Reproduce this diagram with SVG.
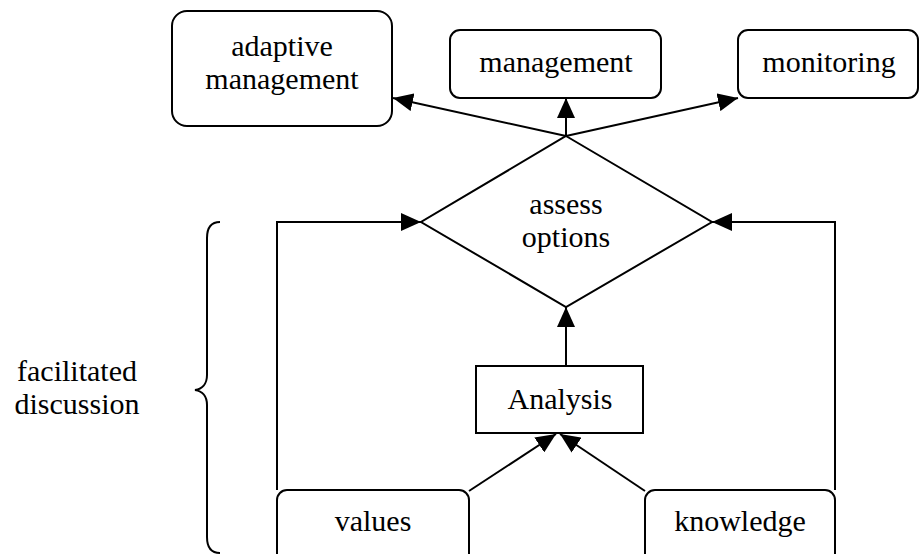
<svg xmlns="http://www.w3.org/2000/svg" width="919" height="554" viewBox="0 0 919 554">
<style>
.box{fill:#fff;stroke:#000;stroke-width:2}
.ln{fill:none;stroke:#000;stroke-width:2}
text{font-family:"Liberation Serif","Times New Roman",serif;font-size:30px;fill:#000;text-anchor:middle}
</style>
<defs>
<marker id="ah" viewBox="0 0 20 18" refX="20" refY="9" markerWidth="20" markerHeight="18" markerUnits="userSpaceOnUse" orient="auto">
<path d="M0,0 L20,9 L0,18 Z" fill="#000"/>
</marker>
</defs>
<rect width="919" height="554" fill="#fff"/>
<g id="connectors">
<line class="ln" x1="566" y1="136" x2="393" y2="98" marker-end="url(#ah)"/>
<line class="ln" x1="566" y1="136" x2="566" y2="98" marker-end="url(#ah)"/>
<line class="ln" x1="566" y1="136" x2="738" y2="98" marker-end="url(#ah)"/>
<polyline class="ln" points="277,490 277,222 421,222" marker-end="url(#ah)"/>
<polyline class="ln" points="835,490 835,222 712,222" marker-end="url(#ah)"/>
<line class="ln" x1="566" y1="366" x2="566" y2="307" marker-end="url(#ah)"/>
<line class="ln" x1="469" y1="491" x2="556" y2="434" marker-end="url(#ah)"/>
<line class="ln" x1="645" y1="491" x2="560" y2="434" marker-end="url(#ah)"/>
</g>
<g id="adaptive">
<rect class="box" x="172" y="11" width="220" height="115" rx="15"/>
<text x="282" y="56">adaptive</text>
<text x="282" y="89">management</text>
</g>
<g id="management">
<rect class="box" x="450" y="30" width="211" height="68" rx="10"/>
<text x="556" y="72">management</text>
</g>
<g id="monitoring">
<rect class="box" x="738" y="30" width="180" height="68" rx="10"/>
<text x="829" y="72">monitoring</text>
</g>
<g id="assess">
<polygon class="box" points="566,136 712,222 566,307 421,222"/>
<text x="566" y="214">assess</text>
<text x="566" y="247">options</text>
</g>
<g id="analysis">
<rect class="box" x="476" y="366" width="167" height="67"/>
<text x="560" y="409">Analysis</text>
</g>
<g id="values">
<rect class="box" x="277" y="490" width="192" height="80" rx="10"/>
<text x="373" y="531">values</text>
</g>
<g id="knowledge">
<rect class="box" x="645" y="490" width="190" height="80" rx="10"/>
<text x="740" y="531">knowledge</text>
</g>
<g id="facilitated">
<path class="ln" d="M220,222 C211,222 207,228 207,238 L207,375 C207,384 202,389 195,390 C202,391 207,396 207,405 L207,537 C207,547 211,553 220,553"/>
<text x="77" y="381">facilitated</text>
<text x="77" y="414">discussion</text>
</g>
</svg>
